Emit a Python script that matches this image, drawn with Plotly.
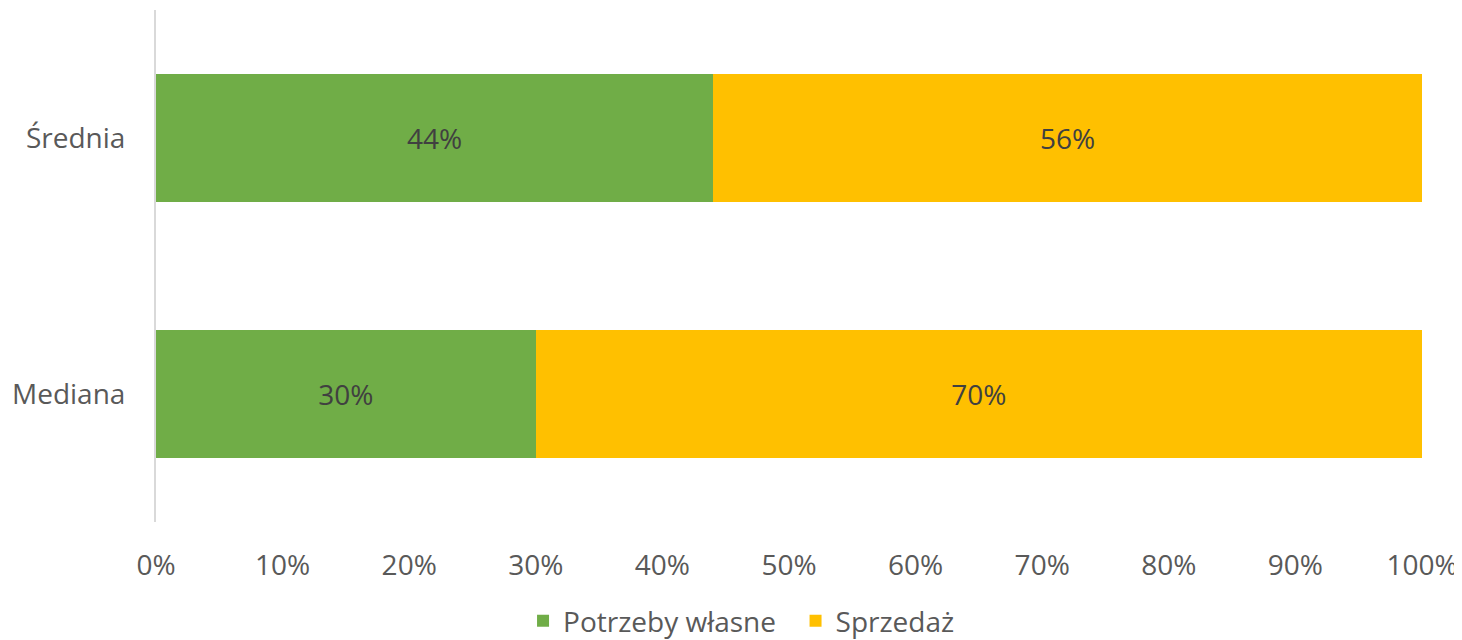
import plotly.graph_objects as go

categories = ["Mediana", "Średnia"]
potrzeby = [30, 44]
sprzedaz = [70, 56]
x_ticks = [0, 10, 20, 30, 40, 50, 60, 70, 80, 90, 100]
x_tick_labels = [f"{v}%" for v in x_ticks]

font_family = "Open Sans, Lato, sans-serif"
FS = 28
fig = go.Figure()
fig.add_trace(go.Bar(
    y=categories, x=potrzeby, orientation="h", name="Potrzeby własne\u00a0\u00a0",
    marker=dict(color="#70AD47", line=dict(width=0)),
    text=[f"{v}%" for v in potrzeby], textposition="inside", insidetextanchor="middle",
    textfont=dict(color="#404040", size=FS, family=font_family),
))
fig.add_trace(go.Bar(
    y=categories, x=sprzedaz, orientation="h", name="Sprzedaż",
    marker=dict(color="#FFC000", line=dict(width=0)),
    text=[f"{v}%" for v in sprzedaz], textposition="inside", insidetextanchor="middle",
    textfont=dict(color="#404040", size=FS, family=font_family),
))
fig.update_layout(
    barmode="stack", bargap=0.5,
    width=1454, height=632,
    margin=dict(l=148, r=40, t=2, b=118),
    plot_bgcolor="white", paper_bgcolor="white",
    font=dict(family=font_family, size=FS, color="#595959"),
    uniformtext=dict(mode="show", minsize=FS),
    legend=dict(orientation="h", xref="container", yref="container",
                x=0.5045, y=0.03, xanchor="center", yanchor="middle",
                font=dict(size=FS, color="#595959"), traceorder="normal",
                itemwidth=30),
    xaxis=dict(range=[0, 100], tickvals=x_ticks, ticktext=x_tick_labels,
               showgrid=False, zeroline=False, showline=False,
               ticks="outside", ticklen=18, tickcolor="rgba(0,0,0,0)",
               tickfont=dict(size=FS, color="#595959")),
    yaxis=dict(showgrid=False, zeroline=False, showline=True,
               linecolor="#D9D9D9", linewidth=2,
               ticks="outside", ticklen=23, tickcolor="rgba(0,0,0,0)",
               tickfont=dict(size=FS, color="#595959")),
)
fig.write_html("out.html")
